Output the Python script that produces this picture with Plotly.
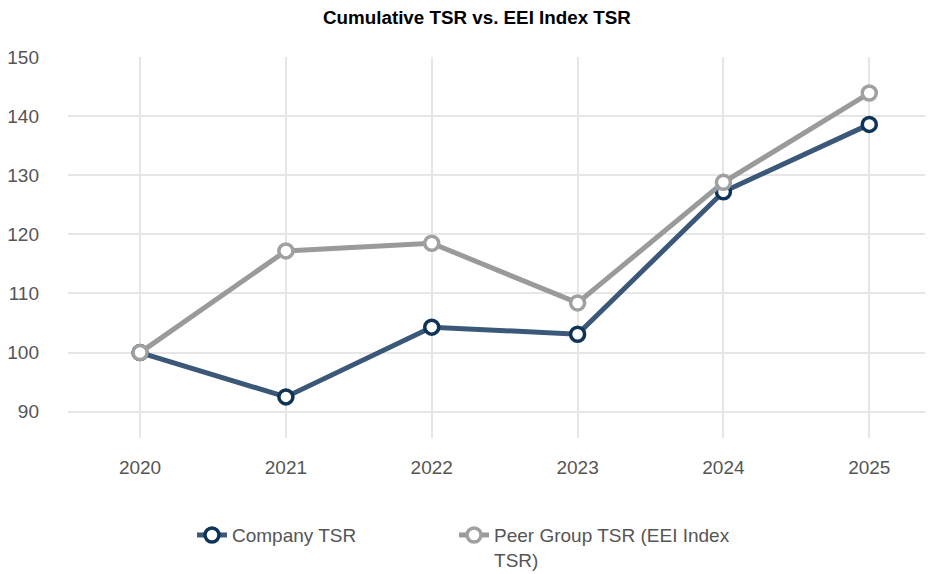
import plotly.graph_objects as go

years = [2020, 2021, 2022, 2023, 2024, 2025]
company_tsr = [100.0, 92.5, 104.3, 103.1, 127.2, 138.6]
peer_tsr = [100.0, 117.2, 118.5, 108.4, 128.8, 143.9]
y_ticks = [90, 100, 110, 120, 130, 140, 150]

FONT = "Liberation Sans, Arial, sans-serif"

fig = go.Figure()
fig.add_trace(go.Scatter(
    x=years, y=company_tsr, name="Company TSR", mode="lines+markers",
    line=dict(color="#3B5878", width=5),
    marker=dict(symbol="circle", size=14, color="white",
                line=dict(color="#0E3558", width=3.5)),
    legend="legend",
))
fig.add_trace(go.Scatter(
    x=years, y=peer_tsr, name="Peer Group TSR (EEI Index<br>TSR)", mode="lines+markers",
    line=dict(color="#999A9C", width=5),
    marker=dict(symbol="circle", size=14, color="white",
                line=dict(color="#9FA0A2", width=3.5)),
    legend="legend2",
))

legend_common = dict(orientation="h", xanchor="left", y=-0.205, yanchor="top",
                     valign="top", font=dict(size=19, color="#555555"),
                     itemwidth=30, bgcolor="rgba(0,0,0,0)")

fig.update_layout(
    width=925, height=566,
    margin=dict(l=60, r=1, t=49, b=136, autoexpand=False),
    paper_bgcolor="white", plot_bgcolor="white",
    font=dict(family=FONT, size=19, color="#555555"),
    title=dict(text="<b>Cumulative TSR vs. EEI Index TSR</b>", x=0.507, xanchor="center",
               y=0.984, yanchor="middle", font=dict(family=FONT, size=18.8, color="#000000")),
    xaxis=dict(range=[2019.506, 2025.43], tickvals=years, ticktext=[str(y) for y in years],
               showgrid=True, gridcolor="#E6E6E6", gridwidth=2, zeroline=False,
               showline=False, ticks="", ticklabelstandoff=16,
               tickfont=dict(size=19, color="#555555")),
    yaxis=dict(range=[85.55, 150], tickvals=y_ticks,
               showgrid=True, gridcolor="#E6E6E6", gridwidth=2, zeroline=False,
               showline=False, ticks="", ticklabelstandoff=28,
               tickfont=dict(size=19, color="#555555")),
    showlegend=True,
    legend=dict(x=0.1435, **legend_common),
    legend2=dict(x=0.4468, **legend_common),
)

fig.write_html("out.html")
